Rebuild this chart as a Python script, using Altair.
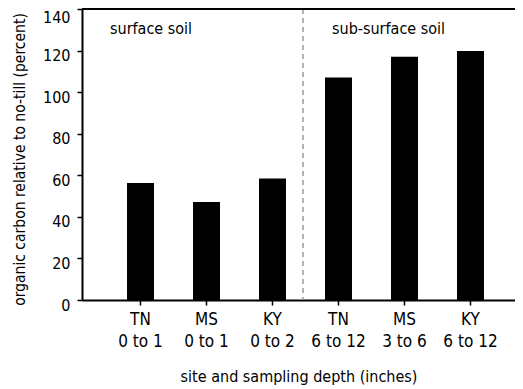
import altair as alt
import pandas as pd

# ---- data ----
sites = ["TN", "MS", "KY", "TN", "MS", "KY"]
depths = ["0 to 1", "0 to 1", "0 to 2", "6 to 12", "3 to 6", "6 to 12"]
carbon = [56.3, 47.1, 58.4, 107.0, 117.0, 119.8]
y_ticks = [0, 20, 40, 60, 80, 100, 120, 140]
zone_labels = ["surface soil", "sub-surface soil"]
divider_after = "KY|0 to 2"

df = pd.DataFrame({"site": sites, "depth": depths, "carbon": carbon})
df["cat"] = df["site"] + "|" + df["depth"]
order = list(df["cat"])

FONT = "DejaVu Sans Condensed, sans-serif"

xscale = alt.Scale(domain=order, paddingInner=0.591, paddingOuter=0.576, align=0.592)
yscale = alt.Scale(domain=[0, 140], nice=False)

bars = alt.Chart(df).mark_bar(color="black").encode(
    x=alt.X("cat:N", scale=xscale, sort=order,
            axis=alt.Axis(labelExpr="split(datum.label, '|')", labelAngle=0,
                          tickSize=5, tickWidth=1.5, tickColor="black",
                          domainWidth=2, domainColor="black",
                          labelPadding=6, labelLineHeight=22, labelFontSize=17,
                          labelColor="black", labelFont=FONT,
                          title="site and sampling depth (inches)",
                          titleFont=FONT, titleFontSize=16, titleFontWeight="normal",
                          titleColor="black", titlePadding=19)),
    y=alt.Y("carbon:Q", scale=yscale,
            axis=alt.Axis(values=y_ticks, grid=False, tickSize=5, tickWidth=1.5,
                          tickColor="black", domainWidth=2, domainColor="black",
                          labelPadding=7, labelFontSize=16, labelColor="black",
                          labelFont=FONT,
                          labelOffset={"condition": {"test": "datum.value == 140", "value": 8},
                                       "value": 5},
                          title="organic carbon relative to no-till (percent)",
                          titleFont=FONT, titleFontSize=15.5, titleFontWeight="normal",
                          titleColor="black", titlePadding=15, titleY=150)),
)

top_rule = alt.Chart(pd.DataFrame({"v": [140]})).mark_rule(
    color="black", strokeWidth=2).encode(y=alt.Y("v:Q", scale=yscale))

divider = alt.Chart(pd.DataFrame({"cat": [divider_after]})).mark_rule(
    color="#9a9a9a", strokeDash=[5, 4], strokeWidth=1.5, xOffset=17
).encode(x=alt.X("cat:N", scale=xscale, bandPosition=1))

text1 = alt.Chart(pd.DataFrame({"label": [zone_labels[0]], "v": [128]})).mark_text(
    align="left", baseline="alphabetic", font=FONT, fontSize=16, color="black"
).encode(x=alt.value(28), y=alt.Y("v:Q", scale=yscale), text="label:N")

text2 = alt.Chart(pd.DataFrame({"label": [zone_labels[1]], "v": [128]})).mark_text(
    align="left", baseline="alphabetic", font=FONT, fontSize=16, color="black"
).encode(x=alt.value(250), y=alt.Y("v:Q", scale=yscale), text="label:N")

chart = alt.layer(bars, divider, top_rule, text1, text2).properties(
    width=433, height=291,
    padding={"left": 74, "top": 1, "right": 0, "bottom": 85},
    autosize=alt.AutoSizeParams(type="none"),
).configure_view(stroke=None)

chart.save("out.html", embed_options={"renderer": "svg", "actions": False})
